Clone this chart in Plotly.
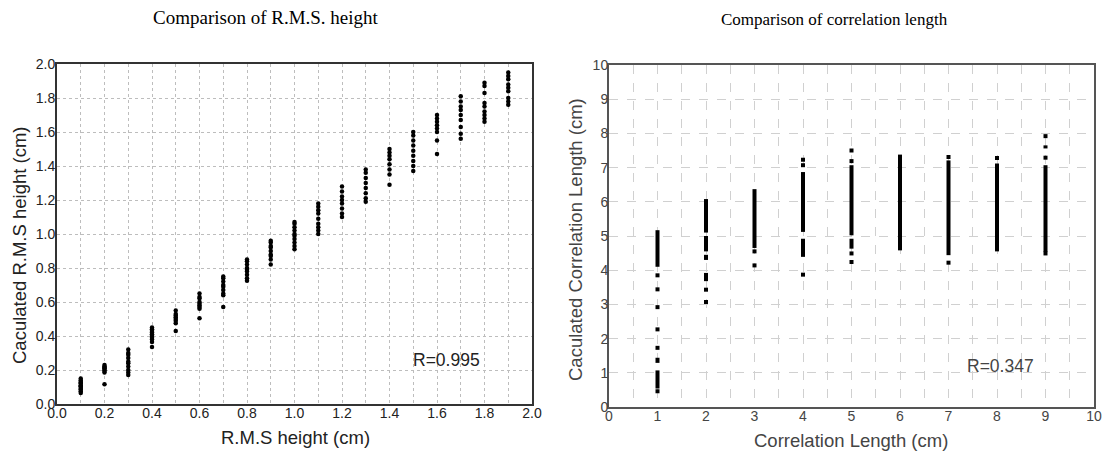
import plotly.graph_objects as go

# ---------------- data: R.M.S. height ----------------
rms_x = [0.1, 0.2, 0.3, 0.4, 0.5, 0.6, 0.7, 0.8, 0.9, 1.0,
         1.1, 1.2, 1.3, 1.4, 1.5, 1.6, 1.7, 1.8, 1.9]
rms_y = [
    [0.065, 0.075, 0.085, 0.09, 0.10, 0.105, 0.11, 0.12, 0.125, 0.13, 0.14, 0.15],
    [0.116, 0.185, 0.195, 0.20, 0.21, 0.215, 0.22, 0.23],
    [0.17, 0.185, 0.20, 0.22, 0.24, 0.25, 0.27, 0.29, 0.30, 0.32],
    [0.335, 0.365, 0.38, 0.39, 0.40, 0.41, 0.42, 0.43, 0.44, 0.45],
    [0.43, 0.475, 0.49, 0.50, 0.51, 0.52, 0.53, 0.55],
    [0.505, 0.56, 0.57, 0.58, 0.59, 0.60, 0.62, 0.63, 0.65],
    [0.57, 0.64, 0.65, 0.67, 0.69, 0.70, 0.72, 0.74, 0.75],
    [0.725, 0.74, 0.76, 0.78, 0.79, 0.80, 0.82, 0.84, 0.85],
    [0.82, 0.85, 0.87, 0.88, 0.90, 0.92, 0.93, 0.95, 0.96],
    [0.91, 0.93, 0.95, 0.97, 0.99, 1.00, 1.02, 1.04, 1.06, 1.07],
    [1.00, 1.02, 1.04, 1.06, 1.09, 1.12, 1.14, 1.16, 1.18],
    [1.10, 1.12, 1.15, 1.18, 1.20, 1.22, 1.25, 1.28],
    [1.19, 1.21, 1.24, 1.27, 1.30, 1.33, 1.36, 1.38],
    [1.29, 1.35, 1.38, 1.41, 1.44, 1.46, 1.48, 1.50],
    [1.37, 1.40, 1.43, 1.46, 1.49, 1.52, 1.55, 1.58, 1.60],
    [1.47, 1.55, 1.60, 1.62, 1.64, 1.66, 1.68, 1.70],
    [1.56, 1.59, 1.63, 1.67, 1.70, 1.73, 1.75, 1.78, 1.81],
    [1.66, 1.68, 1.70, 1.72, 1.75, 1.77, 1.83, 1.87, 1.89],
    [1.76, 1.78, 1.80, 1.84, 1.86, 1.88, 1.91, 1.93, 1.95],
]
rms_r_text = "R=0.995"

# ---------------- data: correlation length ----------------
# dense runs of points (low, high) per true correlation length
cl_run_x = [1, 1, 1, 2, 2, 2, 2, 3, 4, 4, 5, 5, 6, 7, 8, 9, 9]
cl_run_lo = [4.10, 1.29, 0.54, 5.10, 4.55, 4.30, 3.68, 4.65, 5.12, 4.39, 5.02, 4.63, 4.58, 4.44, 4.55, 4.53, 7.56]
cl_run_hi = [5.17, 1.44, 1.07, 6.08, 5.00, 4.45, 3.92, 6.37, 6.87, 4.92, 7.07, 4.92, 7.38, 7.21, 7.12, 7.07, 7.65]
# isolated points
cl_pt_x = [1, 1, 1, 1, 1, 1, 2, 2, 3, 3, 4, 4, 4, 5, 5, 5, 5, 7, 7, 8, 9, 9, 9]
cl_pt_y = [3.85, 3.44, 2.92, 2.27, 1.73, 0.46, 3.43, 3.07, 4.55, 4.14, 7.23, 7.07, 3.87,
           7.50, 7.19, 4.49, 4.24, 7.31, 4.22, 7.28, 7.92, 7.29, 4.49]
cl_r_text = "R=0.347"

# ---------------- figure ----------------
fig = go.Figure()

xs, ys = [], []
for x, col in zip(rms_x, rms_y):
    for v in col:
        xs.append(x)
        ys.append(v)
fig.add_trace(go.Scatter(x=xs, y=ys, mode="markers", xaxis="x", yaxis="y",
                         marker=dict(color="black", size=4.5, symbol="circle"),
                         showlegend=False, hoverinfo="skip"))

lx, ly = [], []
for x, lo, hi in zip(cl_run_x, cl_run_lo, cl_run_hi):
    lx += [x, x, None]
    ly += [lo, hi, None]
fig.add_trace(go.Scatter(x=lx, y=ly, mode="lines", xaxis="x2", yaxis="y2",
                         line=dict(color="black", width=4),
                         showlegend=False, hoverinfo="skip"))
fig.add_trace(go.Scatter(x=cl_pt_x, y=cl_pt_y, mode="markers", xaxis="x2", yaxis="y2",
                         marker=dict(color="black", size=4, symbol="square"),
                         showlegend=False, hoverinfo="skip"))

W, H = 1106, 452
SANS = "Liberation Sans, Arial"
SERIF = "Liberation Serif, Times New Roman"
tickfont_l = dict(family=SANS, size=14, color="#222")
tickfont_r = dict(family=SANS, size=14, color="#444")
grid_l = dict(showgrid=True, gridcolor="#bdbdbd", gridwidth=1, griddash="dot")
grid_r = dict(showgrid=True, gridcolor="#d0d0d0", gridwidth=1, griddash="dash")

fig.update_layout(
    width=W, height=H,
    template="none",
    paper_bgcolor="white", plot_bgcolor="white",
    margin=dict(l=0, r=0, t=0, b=0, autoexpand=False),
    showlegend=False,
    xaxis=dict(domain=[57 / W, 532 / W], range=[0, 2], dtick=0.2, tick0=0,
               tickformat=".1f", ticks="", showline=True, mirror=True,
               linecolor="#333", linewidth=2, zeroline=False, ticklabelstandoff=-5,
               tickfont=tickfont_l, automargin=False, anchor="y",
               minor=dict(dtick=0.1, showgrid=True, gridcolor="#bdbdbd", griddash="dot", gridwidth=1),
               **grid_l),
    yaxis=dict(domain=[1 - 404 / H, 1 - 64 / H], range=[0, 2], dtick=0.2, tick0=0,
               tickformat=".1f", ticks="", showline=True, mirror=True,
               linecolor="#333", linewidth=2, zeroline=False, ticklabelstandoff=-3,
               tickfont=tickfont_l, automargin=False, anchor="x",
               **grid_l),
    xaxis2=dict(domain=[609 / W, 1094 / W], range=[0, 10], dtick=1, tick0=0,
                ticks="", showline=True, mirror=True,
                linecolor="#555", linewidth=2, zeroline=False, ticklabelstandoff=-5,
                tickfont=tickfont_r, automargin=False, anchor="y2",
                minor=dict(dtick=0.5, showgrid=True, gridcolor="#d0d0d0", griddash="dash", gridwidth=1),
                **grid_r),
    yaxis2=dict(domain=[1 - 407 / H, 1 - 65 / H], range=[0, 10], dtick=1, tick0=0,
                ticks="", showline=True, mirror=True,
                linecolor="#555", linewidth=2, zeroline=False, ticklabelstandoff=-4,
                tickfont=tickfont_r, automargin=False, anchor="x2",
                **grid_r),
)


def pa(text, px, py, size, family=SANS, color="#222", angle=0):
    return dict(text=text, x=px / W, y=1 - py / H, xref="paper", yref="paper",
                xanchor="center", yanchor="middle", textangle=angle, showarrow=False,
                font=dict(family=family, size=size, color=color))


ann = [
    pa("Comparison of R.M.S. height", 266, 18, 19, SERIF, "black"),
    pa("Comparison of correlation length", 835, 20, 17, SERIF, "black"),
    pa("R.M.S height (cm)", 295, 437, 18.5),
    pa("Caculated R.M.S height (cm)", 19, 245, 18.5, angle=-90),
    pa("Correlation Length (cm)", 851, 440, 18.5, color="#444"),
    pa("Caculated Correlation Length (cm)", 575, 240, 18.5, color="#444", angle=-90),
    dict(text=rms_r_text, x=1.64, y=0.26, xref="x", yref="y", showarrow=False,
         xanchor="center", yanchor="middle", font=dict(family=SANS, size=17.5, color="#222")),
    dict(text=cl_r_text, x=8.07, y=1.19, xref="x2", yref="y2", showarrow=False,
         xanchor="center", yanchor="middle", font=dict(family=SANS, size=17.5, color="#444")),
]
fig.update_layout(annotations=ann)

fig.write_html("out.html", config={"displayModeBar": False},
               post_script="document.body.style.margin='0';document.body.style.overflow='hidden';")
